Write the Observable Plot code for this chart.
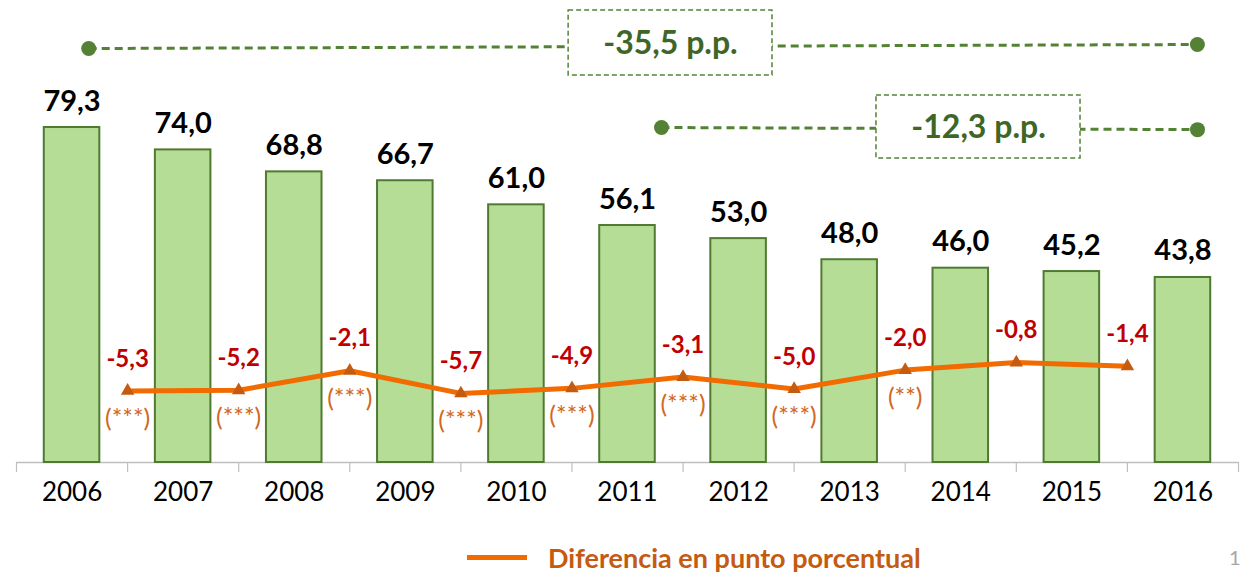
<!DOCTYPE html>
<html><head><meta charset="utf-8">
<script src="https://cdn.jsdelivr.net/npm/d3@7"></script>
<script src="https://cdn.jsdelivr.net/npm/@observablehq/plot@0.6"></script>
<style>
body{margin:0;background:#fff;font-family:Lato, "Open Sans", sans-serif;}
#wrap{position:relative;width:1245px;height:572px;overflow:hidden;background:#fff;}
#chart svg{display:block;}
#legend{position:absolute;left:467px;top:539px;height:36px;display:flex;align-items:center;}
#legend .sw{width:60px;height:5px;background:#f26b00;margin-right:21px;}
#legend .lb{font-family:Lato, sans-serif;font-weight:700;font-size:27px;color:#c55a11;}
#pageno{position:absolute;left:1229px;top:546px;font-family:Lato, sans-serif;font-size:20px;line-height:22px;color:#a6a6a6;}
</style></head><body>
<div id="wrap"><div id="chart"></div>
<div id="legend"><div class="sw"></div><div class="lb">Diferencia en punto porcentual</div></div>
<div id="pageno">1</div>
</div>
<script>
// ---- data ----
const years = ["2006","2007","2008","2009","2010","2011","2012","2013","2014","2015","2016"];
const shares = [79.3, 74.0, 68.8, 66.7, 61.0, 56.1, 53.0, 48.0, 46.0, 45.2, 43.8];
const diffs = [-5.3, -5.2, -2.1, -5.7, -4.9, -3.1, -5.0, -2.0, -0.8, -1.4];
const significance = ["(***)","(***)","(***)","(***)","(***)","(***)","(***)","(**)","",""];
const spanFrom = ["2006", "2011"];
const spanTo = ["2016", "2016"];
const spanLabels = ["-35,5 p.p.", "-12,3 p.p."];

// ---- helpers ----
const comma = v => d3.format(".1f")(v).replace(".", ",").replace("\u2212", "-");
const barIdx = d3.range(years.length);
const diffIdx = d3.range(diffs.length);
// secondary axis for the difference line, expressed in primary units
const diffToY = d3.scaleLinear().domain([-6, 0]).range([15.91, 24.85]);

// annotation layout (hand-placed callouts in the original)
const spanLayout = [
  {x1: 0.15, x2: 10.13, y1: 98.0, y2: 98.95, bx1: 4.47, bx2: 6.305, by1: 107.0, by2: 91.6, tx: 5.387, ty: 99.2},
  {x1: 5.306, x2: 10.131, y1: 79.3, y2: 78.8, bx1: 7.241, bx2: 9.078, by1: 86.9, by2: 71.96, tx: 8.16, ty: 79.3}
];
const spans = spanLabels.map((label, k) => ({label, from: spanFrom[k], to: spanTo[k], ...spanLayout[k]}));
const spanEnds = spans.flatMap(s => [{x: s.x1, y: s.y1}, {x: s.x2, y: s.y2}]);

const green = "#548235";
const chart = Plot.plot({
  width: 1245,
  height: 530,
  marginLeft: 16,
  marginRight: 7,
  marginTop: 10,
  marginBottom: 68,
  style: {fontFamily: "Lato, sans-serif", overflow: "visible", background: "white"},
  x: {domain: [-0.5, 10.5], axis: null},
  y: {domain: [0, 107.0], axis: null},
  marks: [
    Plot.ruleY([0], {stroke: "#bfbfbf", strokeWidth: 1.5}),
    Plot.axisX(d3.range(-0.5, 11, 1), {tickSize: 10, stroke: "#bfbfbf", strokeWidth: 1.2, tickFormat: () => ""}),
    Plot.axisX(barIdx, {tickSize: 0, tickPadding: 20, tickFormat: i => years[i], fontSize: 26, fill: "black"}),
    Plot.rect(barIdx, {x1: i => i - 0.25, x2: i => i + 0.25, y1: 0, y2: i => shares[i], fill: "#b5dd96", stroke: "#4f7a30", strokeWidth: 2}),
    Plot.text(barIdx, {x: i => i, y: i => shares[i], text: i => comma(shares[i]), dy: -17, lineAnchor: "bottom", fontSize: 29, fontWeight: 700, fill: "black"}),
    // difference line
    Plot.line(diffIdx, {x: i => i + 0.5, y: i => diffToY(diffs[i]), stroke: "#f26b00", strokeWidth: 5}),
    Plot.dot(diffIdx, {x: i => i + 0.5, y: i => diffToY(diffs[i]), symbol: "triangle", r: 5, fill: "#c55a11"}),
    Plot.text(diffIdx, {x: i => i + 0.5, y: i => diffToY(diffs[i]), text: i => comma(diffs[i]), dy: -32, fontSize: 24, fontWeight: 700, fill: "#c00000"}),
    Plot.text(diffIdx, {x: i => i + 0.5, y: i => diffToY(diffs[i]), text: i => significance[i], dy: 28, fontSize: 25, fill: "#d0691f"}),
    // callouts
    Plot.link(spans, {x1: "x1", x2: "x2", y1: "y1", y2: "y2", stroke: green, strokeWidth: 3, strokeDasharray: "8,5"}),
    Plot.dot(spanEnds, {x: "x", y: "y", r: 7.5, fill: green}),
    Plot.rect(spans, {x1: "bx1", x2: "bx2", y1: "by1", y2: "by2", fill: "white", stroke: green, strokeWidth: 1.5, strokeDasharray: "5,3"}),
    Plot.text(spans, {x: "tx", y: "ty", text: "label", fontSize: 32, fontWeight: 700, fill: "#3f6626"})
  ]
});
document.getElementById("chart").appendChild(chart);
</script>
</body></html>
